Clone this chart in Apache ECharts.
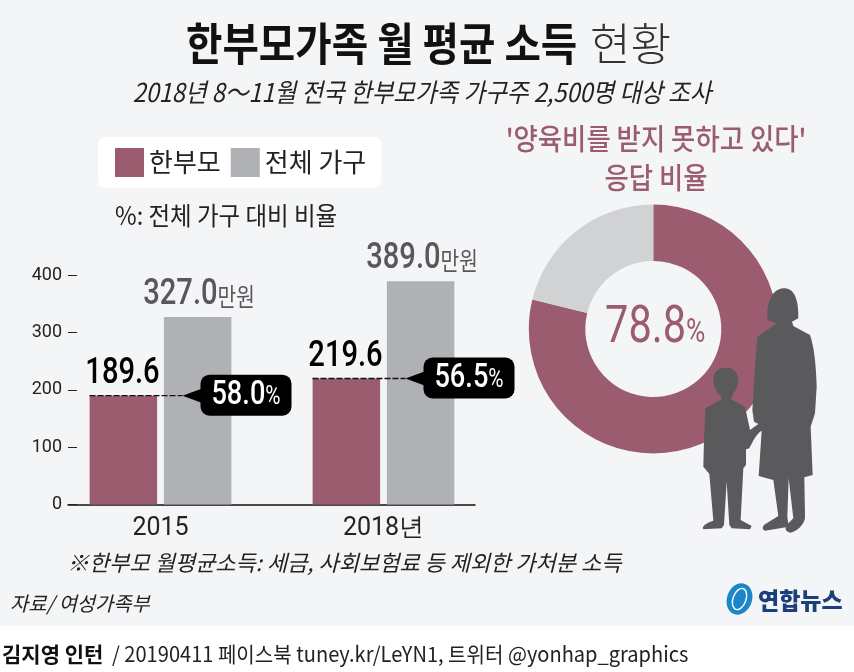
<!DOCTYPE html>
<html><head><meta charset="utf-8">
<script src="https://cdn.jsdelivr.net/npm/echarts@6/dist/echarts.min.js"></script>
<style>html,body{margin:0;padding:0;background:#fff}#c{width:854px;height:672px}</style>
</head><body><div id="c"></div>
<script>
const years = ['2015', '2018년'];
const singleParent = [189.6, 219.6];
const allHouseholds = [327.0, 389.0];
const ratioLabels = ['58.0', '56.5'];
const donutValues = [78.8, 21.2];
const PINK = '#9b5c70', GREY = '#b0b1b4', LIGHT = '#d1d2d4', DARK = '#5a5a5c';
const KR = '"Noto Sans CJK KR","Noto Sans",sans-serif';
const NUM = 'Roboto,"Liberation Sans",sans-serif';

const woman = 'M850 265C880 262 897 295 895 355L876 365L880 378L930 405C942 440 948 490 950 560L945 640L932 680L938 825L913 832L915 945C918 965 900 990 872 998C858 996 853 988 860 975L880 955L866 835L862 950L866 980L795 992C785 988 785 978 800 970L835 948L820 840L776 828L785 692C770 700 758 725 748 745L738 748L738 700L750 690L775 672L762 665L757 630L765 500L772 410L828 372L826 368L803 360C798 310 815 268 850 265Z';
const child = 'M640 530C645 510 665 500 680 505C700 500 715 520 715 540C715 555 710 570 700 580L692 598L735 620L750 690L738 745L738 795L730 805L722 960L755 978L750 988L695 985L688 975L680 845L672 975L665 985L610 988C605 980 615 970 640 962L628 822L610 800L612 720L616 625L665 598L660 585C645 575 640 550 640 530Z';

const textG = (x, y, text, size, color, opts = {}) => ({
  type: 'text', x, y, scaleX: opts.sx || 1, silent: true,
  style: { text, fontSize: size, fill: color, fontFamily: opts.font || KR, fontWeight: opts.w || 400,
    fontStyle: opts.italic ? 'italic' : 'normal', align: opts.align || 'left', verticalAlign: 'middle', rich: opts.rich }
});

const callouts = years.map((y, i) => [i, singleParent[i], allHouseholds[i]]);

const option = {
  backgroundColor: '#ffffff',
  animation: false,
  legend: {
    data: ['한부모', '전체 가구'], left: 98, top: 137, backgroundColor: '#ffffff', borderRadius: 7,
    padding: [11, 15, 11, 17], itemWidth: 29, itemHeight: 29, itemGap: 10, icon: 'rect',
    textStyle: { fontFamily: KR, fontSize: 26, color: '#222' }
  },
  grid: [
    { left: 49, width: 446, top: 275, height: 229.5 },
    { left: 68, width: 407, top: 275, height: 229.5 }
  ],
  xAxis: [
    { type: 'category', gridIndex: 0, data: years, axisLine: { show: false }, axisTick: { show: false },
      axisLabel: { fontFamily: NUM, fontSize: 25, color: '#222', margin: 12 } },
    { type: 'value', gridIndex: 1, min: 0, max: 1, axisLine: { show: true, onZero: true, lineStyle: { color: '#111', width: 1.5 } },
      axisTick: { show: false }, axisLabel: { show: false }, splitLine: { show: false } }
  ],
  yAxis: [
    { type: 'value', gridIndex: 0, min: 0, max: 400, interval: 100, show: false },
    { type: 'value', gridIndex: 1, min: 0, max: 400, interval: 100, axisLine: { show: false },
      axisTick: { show: true, inside: true, length: 9, lineStyle: { color: '#222', width: 1 } },
      axisLabel: { fontFamily: NUM, fontSize: 18, color: '#222', margin: 6 }, splitLine: { show: false } }
  ],
  series: [
    { name: '한부모', type: 'bar', xAxisIndex: 0, yAxisIndex: 0, data: singleParent, barWidth: 67.5, barGap: '10%',
      itemStyle: { color: PINK } },
    { name: '전체 가구', type: 'bar', xAxisIndex: 0, yAxisIndex: 0, data: allHouseholds, barWidth: 67.5,
      itemStyle: { color: GREY } },
    { type: 'custom', xAxisIndex: 0, yAxisIndex: 0, data: callouts, z: 5, silent: true,
      encode: { x: 0, y: 1 },
      renderItem: (params, api) => {
        const base = api.coord([api.value(0), api.value(1)]);
        const top = api.coord([api.value(0), api.value(2)]);
        const xStart = base[0] - 71, y = base[1];
        const boxX = base[0] + 40;
        return { type: 'group', children: [
          { type: 'line', shape: { x1: xStart, y1: y, x2: base[0] + 22, y2: y },
            style: { stroke: '#111', lineWidth: 1.3, lineDash: [6, 2] } },
          { type: 'polygon', shape: { points: [[base[0] + 22, y], [boxX + 1, y - 7], [boxX + 1, y + 7]] }, style: { fill: '#000' } },
          { type: 'rect', shape: { x: boxX, y: y - 21, width: 91, height: 41, r: 9 }, style: { fill: '#000' } },
          { type: 'text', x: boxX + 45.5, y: y, scaleX: 0.8, style: { text: '{a|' + ratioLabels[params.dataIndex] + '}{b|%}',
            align: 'center', verticalAlign: 'middle',
            rich: { a: { fontFamily: NUM, fontSize: 34, fontWeight: 500, fill: '#fff', color: '#fff' },
                    b: { fontFamily: NUM, fontSize: 26, fill: '#fff', color: '#fff', padding: [3, 0, 0, 0] } } } },
          { type: 'text', x: base[0] - 38, y: y - 22, scaleX: 0.81, style: { text: api.value(1).toFixed(1),
            align: 'center', verticalAlign: 'middle', fontFamily: NUM, fontSize: 36, fontWeight: 500, fill: '#000' } },
          { type: 'text', x: top[0] + 38.5, y: top[1] - 22, scaleX: 0.81, style: { text: '{a|' + api.value(2).toFixed(1) + '}{b|만원}',
            align: 'center', verticalAlign: 'middle',
            rich: { a: { fontFamily: NUM, fontSize: 36, fontWeight: 500, fill: '#58585a', color: '#58585a' },
                    b: { fontFamily: KR, fontSize: 25, fill: '#58585a', color: '#58585a', padding: [3, 0, 0, 0] } } } }
        ] };
      } },
    { type: 'pie', center: [653.3, 329], radius: [68, 124.5], startAngle: 90, clockwise: true, silent: true,
      label: { show: false }, labelLine: { show: false },
      data: [ { value: donutValues[0], itemStyle: { color: PINK } }, { value: donutValues[1], itemStyle: { color: LIGHT } } ] },
    { type: 'custom', coordinateSystem: 'none', data: [[0]], z: 20, silent: true,
      renderItem: () => ({ type: 'group', children: [
        { type: 'path', x: 500, y: 200, scaleX: 1 / 3, scaleY: 1 / 3, shape: { pathData: woman }, style: { fill: DARK } },
        { type: 'path', x: 500, y: 200, scaleX: 1 / 3, scaleY: 1 / 3, shape: { pathData: child }, style: { fill: DARK } },
        { type: 'ellipse', x: 739.5, y: 599, rotation: -0.35, shape: { cx: 0, cy: 0, rx: 12.5, ry: 16 }, style: { fill: '#1b87c9' } },
        { type: 'ellipse', x: 739.5, y: 599, rotation: -0.35, shape: { cx: 0, cy: 0, rx: 6.5, ry: 11 }, style: { fill: 'none', stroke: '#ffffff', lineWidth: 1.4 } }
      ] }) }
  ],
  graphic: [
    { type: 'rect', z: -10, silent: true, shape: { x: 0, y: 0, width: 854, height: 626 }, style: { fill: '#f4f5f7' } },
    textG(186, 44, '한부모가족 월 평균 소득', 45, '#111', { w: 700, sx: 0.88 }),
    textG(590, 44, '현황', 45, '#333', { w: 300, sx: 0.98 }),
    textG(422, 92, '2018년 8～11월 전국 한부모가족 가구주 2,500명 대상 조사', 26, '#222', { italic: true, align: 'center', sx: 0.905 }),
    textG(656, 139, "'양육비를 받지 못하고 있다'", 29, PINK, { align: 'center', w: 500, sx: 0.91 }),
    textG(656, 178, '응답 비율', 29, PINK, { align: 'center', w: 500, sx: 0.91 }),
    textG(115, 215, '%: 전체 가구 대비 비율', 25, '#222', { sx: 0.94 }),
    textG(605, 329, '{a|78.8}{b|%}', 10, PINK, { sx: 0.8, rich: {
      a: { fontFamily: NUM, fontSize: 52, fontWeight: 400, color: PINK },
      b: { fontFamily: NUM, fontSize: 33, color: PINK, padding: [10, 0, 0, 0] } } }),
    textG(67, 563, '※한부모 월평균소득: 세금, 사회보험료 등 제외한 가처분 소득', 22, '#222', { italic: true, sx: 1.0 }),
    textG(10, 603, '자료/ 여성가족부', 20, '#222', { italic: true, sx: 0.99 }),
    textG(758, 600, '연합뉴스', 23, '#1c3f7c', { w: 900, sx: 1.0 }),
    textG(2, 654, '김지영 인턴', 21, '#111', { w: 700, sx: 1.0 }),
    textG(112, 654, '/ 20190411 페이스북 tuney.kr/LeYN1, 트위터 @yonhap_graphics', 21, '#222', { sx: 0.955 })
  ]
};
echarts.init(document.getElementById('c'), null, { renderer: 'canvas' }).setOption(option);
</script></body></html>
